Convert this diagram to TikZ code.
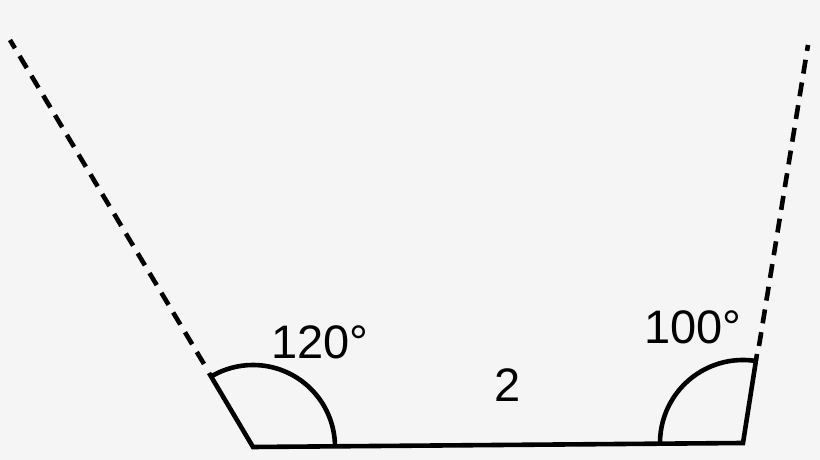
\documentclass[tikz,border=0pt]{standalone}
\usepackage{fontspec}
\setmainfont{Liberation Sans}
\begin{document}
\begin{tikzpicture}[x=1pt,y=1pt,
  edge/.style={line width=4.6pt,black},
  dashedge/.style={line width=4.6pt,black,dash pattern=on 14pt off 9pt},
  lbl/.style={inner sep=0pt,font=\fontsize{47}{52}\selectfont}]
\fill[fill={rgb,255:red,245;green,245;blue,245}] (0,0) rectangle (820,460);
\useasboundingbox (0,0) rectangle (820,460);
\coordinate (A) at (253,13);
\coordinate (B) at (743,17);
\coordinate (L) at (10,420);
\coordinate (R) at (808,415);
\coordinate (SL) at (209,87);
\coordinate (SR) at (757,106);
\coordinate (DL) at (204,96);
\coordinate (DR) at (759,114);
\draw[edge,line join=miter] (SL) -- (A) -- (B) -- (SR);
\draw[dashedge] (DL) -- (L);
\draw[dashedge] (DR) -- (R);
\draw[edge] (A) ++(82,0) arc[start angle=0,end angle=120,radius=82];
\draw[edge] (B) ++(-83,0) arc[start angle=180,end angle=80,radius=83];
\node[lbl] (a1) at (320,118) {120°};
\node[lbl] (a2) at (693,133) {100°};
\node[lbl] (s) at (508,75) {2};
\end{tikzpicture}
\end{document}
